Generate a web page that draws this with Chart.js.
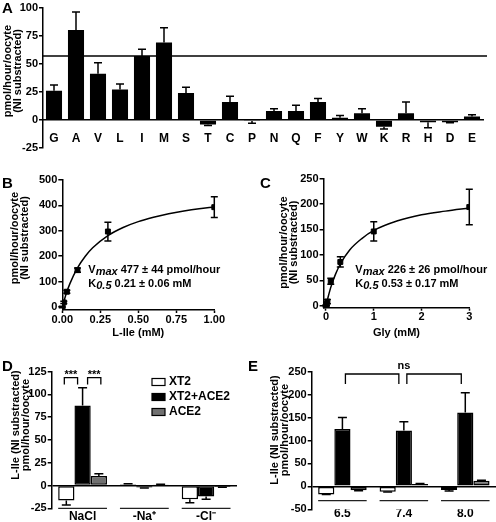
<!DOCTYPE html>
<html>
<head>
<meta charset="utf-8">
<script src="https://cdn.jsdelivr.net/npm/chart.js@4.4.1/dist/chart.umd.min.js"></script>
<style>
  body { margin: 0; background: #fff; }
  #fig { position: relative; width: 496px; height: 522px; overflow: hidden; }
  #fig canvas { position: absolute; }
  .panel { position: absolute; font: bold 15px "Liberation Sans", Arial, sans-serif; line-height: 15px; color: #000; }
</style>
</head>
<body>
<div id="fig">
  <canvas id="chartA" width="496" height="165" style="left:0;top:0"></canvas>
  <canvas id="chartB" width="246" height="175" style="left:0;top:170px"></canvas>
  <canvas id="chartC" width="250" height="175" style="left:246px;top:170px"></canvas>
  <canvas id="chartD" width="246" height="167" style="left:0;top:355px"></canvas>
  <canvas id="chartE" width="250" height="167" style="left:246px;top:355px"></canvas>
  <div class="panel" style="left:2px;top:0px">A</div>
  <div class="panel" style="left:2px;top:175px">B</div>
  <div class="panel" style="left:260px;top:175px">C</div>
  <div class="panel" style="left:2px;top:358px">D</div>
  <div class="panel" style="left:248px;top:358px">E</div>
</div>
<script>
// ---- A: amino acid screen ----
const aminoAcids = ['G', 'A', 'V', 'L', 'I', 'M', 'S', 'T', 'C', 'P', 'N', 'Q', 'F', 'Y', 'W', 'K', 'R', 'H', 'D', 'E'];
const aaUptake = [26, 80, 41, 27, 57, 69, 24, -4, 16, -1, 8, 8, 16, 2, 6, -6, 6, -2, -2, 3];
const aaError = [5, 16, 10, 5, 6, 13, 5, 1, 5, 2, 2, 5, 3, 2, 4, 2, 10, 5, 0.5, 1.5];
const aaRefLevel = 57;
const aaTicks = [-25, 0, 25, 50, 75, 100];

// ---- B: L-Ile kinetics ----
const ileConc = [0, 0.01, 0.03, 0.1, 0.3, 1.0];
const ileUptake = [0, 18, 60, 145, 297, 393];
const ileError = [3, 4, 6, 8, 37, 41];
const ileFitConc = [0, 0.025, 0.05, 0.1, 0.15, 0.2, 0.3, 0.4, 0.5, 0.6, 0.7, 0.8, 0.9, 1.0];
const ileFitUptake = [0, 51, 92, 154, 199, 233, 281, 313, 336, 353, 367, 378, 387, 394];
const ileConcTicks = [0, 0.25, 0.5, 0.75, 1];
const ileTicks = [0, 100, 200, 300, 400, 500];
const ileVmax = '477 ± 44 pmol/hour';
const ileK = '0.21 ± 0.06 mM';

// ---- C: Gly kinetics ----
const glyConc = [0, 0.01, 0.03, 0.1, 0.3, 1, 3];
const glyUptake = [0, 3, 8, 48, 86, 146, 194];
const glyError = [2, 3, 4, 6, 10, 19, 35];
const glyFitConc = [0, 0.05, 0.1, 0.2, 0.3, 0.5, 0.75, 1, 1.5, 2, 2.5, 3];
const glyFitUptake = [0, 19, 36, 62, 82, 110, 132, 148, 167, 179, 186, 192];
const glyConcTicks = [0, 1, 2, 3];
const glyTicks = [0, 50, 100, 150, 200, 250];
const glyVmax = '226 ± 26 pmol/hour';
const glyK = '0.53 ± 0.17 mM';

// ---- D: ion dependence ----
const ionGroups = ['NaCl', '-Na⁺', '-Cl⁻'];
const ionXT2 = [-16.5, 1.5, -15];
const ionXT2Err = [4.8, 0.5, 4];
const ionBoth = [88, -2.2, -12];
const ionBothErr = [19.5, 0.5, 3];
const ionACE2 = [10.5, 1, -1.6];
const ionACE2Err = [2.5, 0.3, 0.3];
const ionTicks = [-25, 0, 25, 50, 75, 100, 125];

// ---- E: pH dependence ----
const phGroups = ['6.5', '7.4', '8.0'];
const phXT2 = [-17.5, -12, -8];
const phXT2Err = [0.5, 0.5, 2];
const phBoth = [125, 122, 161];
const phBothErr = [25, 19, 43];
const phACE2 = [-8.5, 5, 12];
const phACE2Err = [1, 1.5, 1.5];
const phTicks = [-50, 0, 50, 100, 150, 200, 250];

const seriesNames = ['XT2', 'XT2+ACE2', 'ACE2'];
const FONT = '"Liberation Sans", Arial, sans-serif';
const GREY = '#707070';

Chart.defaults.font.family = FONT;
Chart.defaults.font.weight = 'bold';
Chart.defaults.font.size = 11;
Chart.defaults.color = '#000';
Chart.defaults.animation = false;
Chart.defaults.responsive = false;
Chart.defaults.devicePixelRatio = 1;
Chart.defaults.plugins.legend.display = false;
Chart.defaults.plugins.tooltip.enabled = false;

// error bars: one-sided on bars, both sides on points
const errorBars = {
  id: 'errorBars',
  afterDatasetsDraw(chart, args, o) {
    const ctx = chart.ctx, ys = chart.scales.y;
    ctx.save();
    ctx.strokeStyle = '#000';
    ctx.lineWidth = 1.5;
    chart.data.datasets.forEach((ds, di) => {
      if (!ds.errors) return;
      const meta = chart.getDatasetMeta(di);
      meta.data.forEach((el, i) => {
        const raw = ds.data[i];
        const v = typeof raw === 'object' ? raw.y : raw;
        const e = ds.errors[i];
        const ends = meta.type === 'bar' ? [v + (v < 0 ? -e : e)] : [v - e, v + e];
        const y0 = ys.getPixelForValue(v);
        ctx.beginPath();
        ends.forEach(end => {
          const y1 = ys.getPixelForValue(end);
          ctx.moveTo(el.x, y0);
          ctx.lineTo(el.x, y1);
          ctx.moveTo(el.x - o.cap / 2, y1);
          ctx.lineTo(el.x + o.cap / 2, y1);
        });
        ctx.stroke();
      });
    });
    ctx.restore();
  }
};

// rotated, two-line y axis title
const yTitle = {
  id: 'yTitle',
  afterDraw(chart, args, o) {
    const ctx = chart.ctx;
    ctx.save();
    ctx.translate(o.x, o.y);
    ctx.rotate(-Math.PI / 2);
    ctx.font = 'bold 11px ' + FONT;
    ctx.fillStyle = '#000';
    ctx.textAlign = 'center';
    ctx.textBaseline = 'middle';
    o.lines.forEach((t, i) => ctx.fillText(t, 0, i * o.gap));
    ctx.restore();
  }
};

// threshold line in A
const refLine = {
  id: 'refLine',
  afterDatasetsDraw(chart, args, o) {
    const ctx = chart.ctx, a = chart.chartArea;
    const y = chart.scales.y.getPixelForValue(o.value);
    ctx.save();
    ctx.strokeStyle = '#000';
    ctx.lineWidth = 1.5;
    ctx.beginPath();
    ctx.moveTo(a.left, y);
    ctx.lineTo(a.right + o.extend, y);
    ctx.stroke();
    ctx.restore();
  }
};

// Vmax / K0.5 text
const fitText = {
  id: 'fitText',
  afterDraw(chart, args, o) {
    const ctx = chart.ctx;
    ctx.save();
    ctx.fillStyle = '#000';
    ctx.textBaseline = 'middle';
    const row = (sym, sub, val, y) => {
      let x = o.x;
      ctx.font = 'bold 11px ' + FONT;
      ctx.fillText(sym, x, y);
      x += ctx.measureText(sym).width;
      ctx.font = 'italic bold 11px ' + FONT;
      ctx.fillText(sub, x, y + 2);
      x += ctx.measureText(sub).width + 3;
      ctx.font = 'bold 11px ' + FONT;
      ctx.fillText(val, x, y);
    };
    row('V', 'max', o.vmax, o.y);
    row('K', '0.5', o.k, o.y + o.dy);
    ctx.restore();
  }
};

// significance brackets
const brackets = {
  id: 'brackets',
  afterDatasetsDraw(chart, args, o) {
    const ctx = chart.ctx, ys = chart.scales.y;
    const px = (p) => chart.getDatasetMeta(p[1]).data[p[0]].x;
    ctx.save();
    ctx.strokeStyle = '#000';
    ctx.fillStyle = '#000';
    ctx.lineWidth = 1.3;
    ctx.textAlign = 'center';
    ctx.textBaseline = 'middle';
    ctx.font = 'bold 11px ' + FONT;
    o.items.forEach(b => {
      const x1 = px(b.from) + b.inset[0], x2 = px(b.to) - b.inset[1];
      const y = ys.getPixelForValue(b.top), yl = ys.getPixelForValue(b.leg);
      ctx.beginPath();
      ctx.moveTo(x1, yl);
      ctx.lineTo(x1, y);
      ctx.lineTo(x2, y);
      ctx.lineTo(x2, yl);
      ctx.stroke();
      if (b.text) ctx.fillText(b.text, (x1 + x2) / 2, ys.getPixelForValue(b.textAt));
    });
    (o.labels || []).forEach(l => ctx.fillText(l.text, px(l.at), ys.getPixelForValue(l.value)));
    ctx.restore();
  }
};

// line under each bar group
const groupLines = {
  id: 'groupLines',
  afterDraw(chart, args, o) {
    const ctx = chart.ctx;
    const first = chart.getDatasetMeta(0).data;
    const last = chart.getDatasetMeta(chart.data.datasets.length - 1).data;
    const y = chart.chartArea.bottom - o.offset;
    ctx.save();
    ctx.strokeStyle = '#222';
    ctx.lineWidth = 1.2;
    first.forEach((el, i) => {
      ctx.beginPath();
      ctx.moveTo(el.x - el.width / 2, y);
      ctx.lineTo(last[i].x + last[i].width / 2, y);
      ctx.stroke();
    });
    ctx.restore();
  }
};

// box legend for D
const boxLegend = {
  id: 'boxLegend',
  afterDraw(chart, args, o) {
    const ctx = chart.ctx;
    ctx.save();
    ctx.font = 'bold 12px ' + FONT;
    ctx.textBaseline = 'middle';
    chart.data.datasets.forEach((ds, i) => {
      const y = o.y + i * o.gap;
      ctx.fillStyle = ds.backgroundColor;
      ctx.fillRect(o.x, y - o.h / 2, o.w, o.h);
      ctx.strokeStyle = '#000';
      ctx.lineWidth = 1.2;
      ctx.strokeRect(o.x, y - o.h / 2, o.w, o.h);
      ctx.fillStyle = '#000';
      ctx.fillText(ds.label, o.x + o.w + 4, y);
    });
    ctx.restore();
  }
};

function useTicks(values) {
  return s => { s.ticks = values.map(v => ({ value: v })); };
}

function yAxis(min, max, tickValues, width, zeroLine) {
  return {
    min: min, max: max,
    afterBuildTicks: useTicks(tickValues),
    afterFit: s => { s.width = width; },
    border: { display: true, color: '#000', width: 1.5 },
    grid: {
      drawOnChartArea: !!zeroLine,
      color: c => (zeroLine && c.tick && c.tick.value === 0) ? '#000' : 'rgba(0,0,0,0)',
      lineWidth: 1.5,
      tickLength: 4, tickColor: '#000', tickWidth: 1.5
    },
    ticks: { padding: 1 }
  };
}

function linearX(min, max, tickValues, height, title, titlePad, fmt) {
  return {
    type: 'linear', min: min, max: max,
    afterBuildTicks: useTicks(tickValues),
    afterFit: s => { s.height = height; },
    border: { display: true, color: '#000', width: 1.5 },
    grid: { drawOnChartArea: false, tickLength: 3, tickColor: '#000', tickWidth: 1.5 },
    ticks: { padding: 0, maxRotation: 0, callback: fmt },
    title: { display: true, text: title, font: { size: 11, weight: 'bold' }, padding: { top: 0, bottom: titlePad } }
  };
}

function groupX(height, pad) {
  return {
    afterFit: s => { s.height = height; },
    border: { display: false },
    grid: { display: false, drawTicks: false },
    ticks: { padding: pad, font: { size: 12, weight: 'bold' }, maxRotation: 0 }
  };
}

function pairs(xs, ys) {
  return xs.map((x, i) => ({ x: x, y: ys[i] }));
}

function groupDatasets(a, aErr, b, bErr, c, cErr) {
  const base = { borderColor: '#000', borderWidth: 1.5, borderSkipped: false, barPercentage: 1, categoryPercentage: 0.79 };
  return [
    Object.assign({ label: seriesNames[0], data: a, errors: aErr, backgroundColor: '#fff' }, base),
    Object.assign({ label: seriesNames[1], data: b, errors: bErr, backgroundColor: '#000' }, base),
    Object.assign({ label: seriesNames[2], data: c, errors: cErr, backgroundColor: GREY }, base)
  ];
}

// A
new Chart(document.getElementById('chartA'), {
  type: 'bar',
  data: {
    labels: aminoAcids,
    datasets: [{ data: aaUptake, errors: aaError, backgroundColor: '#000', barPercentage: 0.73, categoryPercentage: 1 }]
  },
  options: {
    layout: { padding: { top: 6, right: 13, left: 0, bottom: 17 } },
    scales: {
      x: {
        position: { y: 0 },
        border: { display: true, color: '#000', width: 1.5 },
        grid: { display: false, drawTicks: false },
        ticks: { padding: 11.5, font: { size: 12, weight: 'bold' }, maxRotation: 0, autoSkip: false }
      },
      y: yAxis(-25, 100, aaTicks, 43, false)
    },
    plugins: {
      errorBars: { cap: 8 },
      refLine: { value: aaRefLevel, extend: 4 },
      yTitle: { x: 8, y: 71, gap: 10, lines: ['pmol/hour/oocyte', '(NI substracted)'] }
    }
  },
  plugins: [errorBars, refLine, yTitle]
});

// B
new Chart(document.getElementById('chartB'), {
  type: 'scatter',
  data: {
    datasets: [
      { data: pairs(ileConc, ileUptake), errors: ileError, pointStyle: 'rect', pointRadius: 3.5, backgroundColor: '#000', borderColor: '#000' },
      { data: pairs(ileFitConc, ileFitUptake), showLine: true, pointRadius: 0, borderColor: '#000', borderWidth: 1.5, cubicInterpolationMode: 'monotone' }
    ]
  },
  options: {
    layout: { padding: { top: 10, right: 31.7, left: 0, bottom: 0 } },
    scales: {
      x: linearX(0, 1, ileConcTicks, 35, 'L-Ile (mM)', 5.7, v => v.toFixed(2)),
      y: yAxis(-12, 500, ileTicks, 62.3, false)
    },
    plugins: {
      errorBars: { cap: 7 },
      fitText: { x: 88.3, y: 100, dy: 13.5, vmax: ileVmax, k: ileK },
      yTitle: { x: 15, y: 68, gap: 10, lines: ['pmol/hour/oocyte', '(NI substracted)'] }
    }
  },
  plugins: [errorBars, fitText, yTitle]
});

// C
new Chart(document.getElementById('chartC'), {
  type: 'scatter',
  data: {
    datasets: [
      { data: pairs(glyConc, glyUptake), errors: glyError, pointStyle: 'rect', pointRadius: 3.5, backgroundColor: '#000', borderColor: '#000' },
      { data: pairs(glyFitConc, glyFitUptake), showLine: true, pointRadius: 0, borderColor: '#000', borderWidth: 1.5, cubicInterpolationMode: 'monotone' }
    ]
  },
  options: {
    layout: { padding: { top: 8.6, right: 26.7, left: 0, bottom: 0 } },
    scales: {
      x: linearX(-0.05, 3, glyConcTicks, 37.3, 'Gly (mM)', 5.4, v => String(v)),
      y: yAxis(-4, 250, glyTicks, 77.6, false)
    },
    plugins: {
      errorBars: { cap: 7 },
      fitText: { x: 109.3, y: 100, dy: 14, vmax: glyVmax, k: glyK },
      yTitle: { x: 38.3, y: 72.5, gap: 10, lines: ['pmol/hour/oocyte', '(NI substracted)'] }
    }
  },
  plugins: [errorBars, fitText, yTitle]
});

// D
new Chart(document.getElementById('chartD'), {
  type: 'bar',
  data: {
    labels: ionGroups,
    datasets: groupDatasets(ionXT2, ionXT2Err, ionBoth, ionBothErr, ionACE2, ionACE2Err)
  },
  options: {
    layout: { padding: { top: 16.7, right: 9, left: 0, bottom: 0 } },
    scales: {
      x: groupX(13.7, 1),
      y: yAxis(-25, 125, ionTicks, 51.7, true)
    },
    plugins: {
      errorBars: { cap: 9 },
      groupLines: { offset: 0 },
      boxLegend: { x: 152, y: 27, gap: 15, w: 13, h: 7 },
      brackets: {
        items: [
          { from: [0, 0], to: [0, 1], inset: [-2, 5], top: 118.5, leg: 111, text: '***', textAt: 121 },
          { from: [0, 1], to: [0, 2], inset: [5, -2], top: 118.5, leg: 111, text: '***', textAt: 121 }
        ]
      },
      yTitle: { x: 16, y: 70, gap: 10, lines: ['L-Ile (NI substracted)', 'pmol/hour/oocyte'] }
    }
  },
  plugins: [errorBars, groupLines, boxLegend, brackets, yTitle]
});

// E
new Chart(document.getElementById('chartE'), {
  type: 'bar',
  data: {
    labels: phGroups,
    datasets: groupDatasets(phXT2, phXT2Err, phBoth, phBothErr, phACE2, phACE2Err)
  },
  options: {
    layout: { padding: { top: 16.7, right: 0, left: 0, bottom: 0 } },
    scales: {
      x: groupX(12.7, -3),
      y: yAxis(-50, 250, phTicks, 65.7, true)
    },
    plugins: {
      errorBars: { cap: 9 },
      groupLines: { offset: 8.6 },
      brackets: {
        items: [
          { from: [0, 1], to: [1, 1], inset: [3, 5], top: 245, leg: 223 },
          { from: [1, 1], to: [2, 1], inset: [3, 4], top: 245, leg: 223 }
        ],
        labels: [{ text: 'ns', at: [1, 1], value: 263 }]
      },
      yTitle: { x: 28.5, y: 75, gap: 10, lines: ['L-Ile (NI substracted)', 'pmol/hour/oocyte'] }
    }
  },
  plugins: [errorBars, groupLines, brackets, yTitle]
});
</script>
</body>
</html>
